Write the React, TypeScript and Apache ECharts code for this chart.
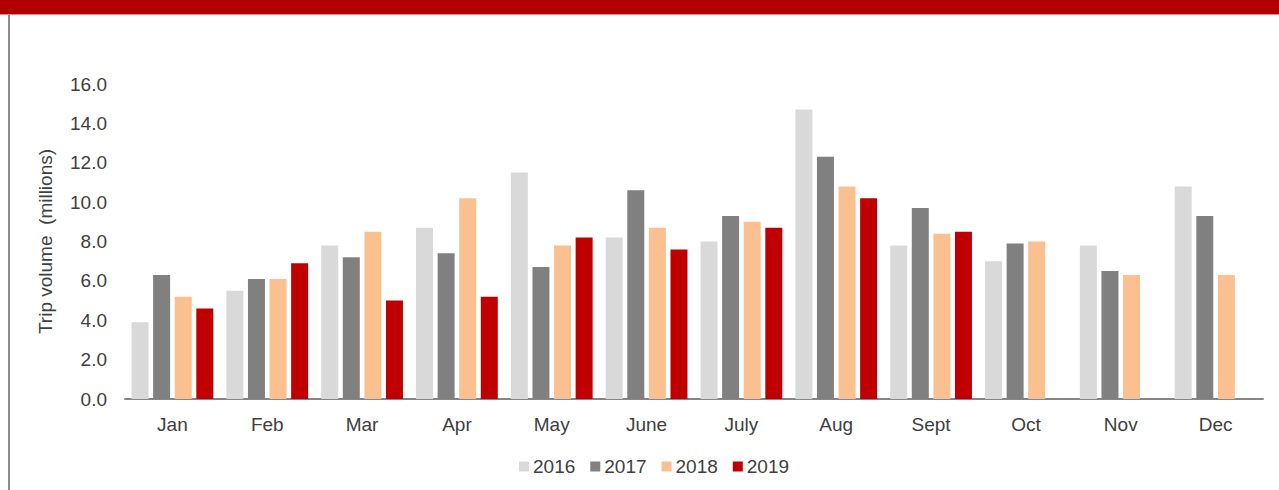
import React, { useEffect, useRef } from "react";
import * as echarts from "echarts";

const months = ["Jan", "Feb", "Mar", "Apr", "May", "June", "July", "Aug", "Sept", "Oct", "Nov", "Dec"];
const years = ["2016", "2017", "2018", "2019"];
const v2016 = [3.9, 5.5, 7.8, 8.7, 11.5, 8.2, 8.0, 14.7, 7.8, 7.0, 7.8, 10.8];
const v2017 = [6.3, 6.1, 7.2, 7.4, 6.7, 10.6, 9.3, 12.3, 9.7, 7.9, 6.5, 9.3];
const v2018 = [5.2, 6.1, 8.5, 10.2, 7.8, 8.7, 9.0, 10.8, 8.4, 8.0, 6.3, 6.3];
const v2019 = [4.6, 6.9, 5.0, 5.2, 8.2, 7.6, 8.7, 10.2, 8.5, null, null, null];
const colors = ["#D9D9D9", "#808080", "#FAC090", "#C00000"];

export default function App() {
  const ref = useRef<HTMLDivElement>(null);
  useEffect(() => {
    document.body.style.margin = "0";
    const chart = echarts.init(ref.current!, null, { renderer: "svg" });
    const data = [v2016, v2017, v2018, v2019];
    const font = "'Liberation Sans', Arial, sans-serif";
    chart.setOption({
      animation: false,
      textStyle: { fontFamily: font },
      graphic: [
        { type: "rect", shape: { x: 0, y: 0, width: 1279, height: 14 }, style: { fill: "#B20000" } },
        { type: "rect", shape: { x: 0, y: 14, width: 1279, height: 1 }, style: { fill: "#DC8A8A" } },
        { type: "rect", shape: { x: 8, y: 15, width: 2, height: 475 }, style: { fill: "#8C8C8C" } },
      ],
      grid: { left: 125, right: 16, top: 84, bottom: 91, containLabel: false },
      legend: {
        data: years,
        left: 514,
        top: 452,
        itemWidth: 10,
        itemHeight: 10,
        itemGap: 15,
        icon: "rect",
        textStyle: { fontSize: 19, color: "#404040", fontFamily: font, padding: [0, 0, 0, -1] },
      },
      xAxis: {
        type: "category",
        data: months,
        axisTick: { show: false },
        axisLine: { lineStyle: { color: "#868686", width: 2 } },
        axisLabel: { fontSize: 19, color: "#404040", margin: 16, fontFamily: font },
      },
      yAxis: {
        type: "value",
        min: 0,
        max: 16,
        interval: 2,
        name: "Trip volume  (millions)",
        nameLocation: "middle",
        nameGap: 70,
        nameTextStyle: { fontSize: 19, color: "#404040", fontFamily: font },
        splitLine: { show: false },
        axisLine: { show: false },
        axisTick: { show: false },
        axisLabel: {
          fontSize: 19,
          color: "#404040",
          margin: 18,
          fontFamily: font,
          formatter: (v: number) => v.toFixed(1),
        },
      },
      series: years.map((y, i) => ({
        name: y,
        type: "bar",
        data: data[i],
        barWidth: 17,
        barGap: "27%",
        itemStyle: { color: colors[i] },
      })),
    });
    return () => chart.dispose();
  }, []);
  return <div ref={ref} style={{ width: 1279, height: 490 }} />;
}
